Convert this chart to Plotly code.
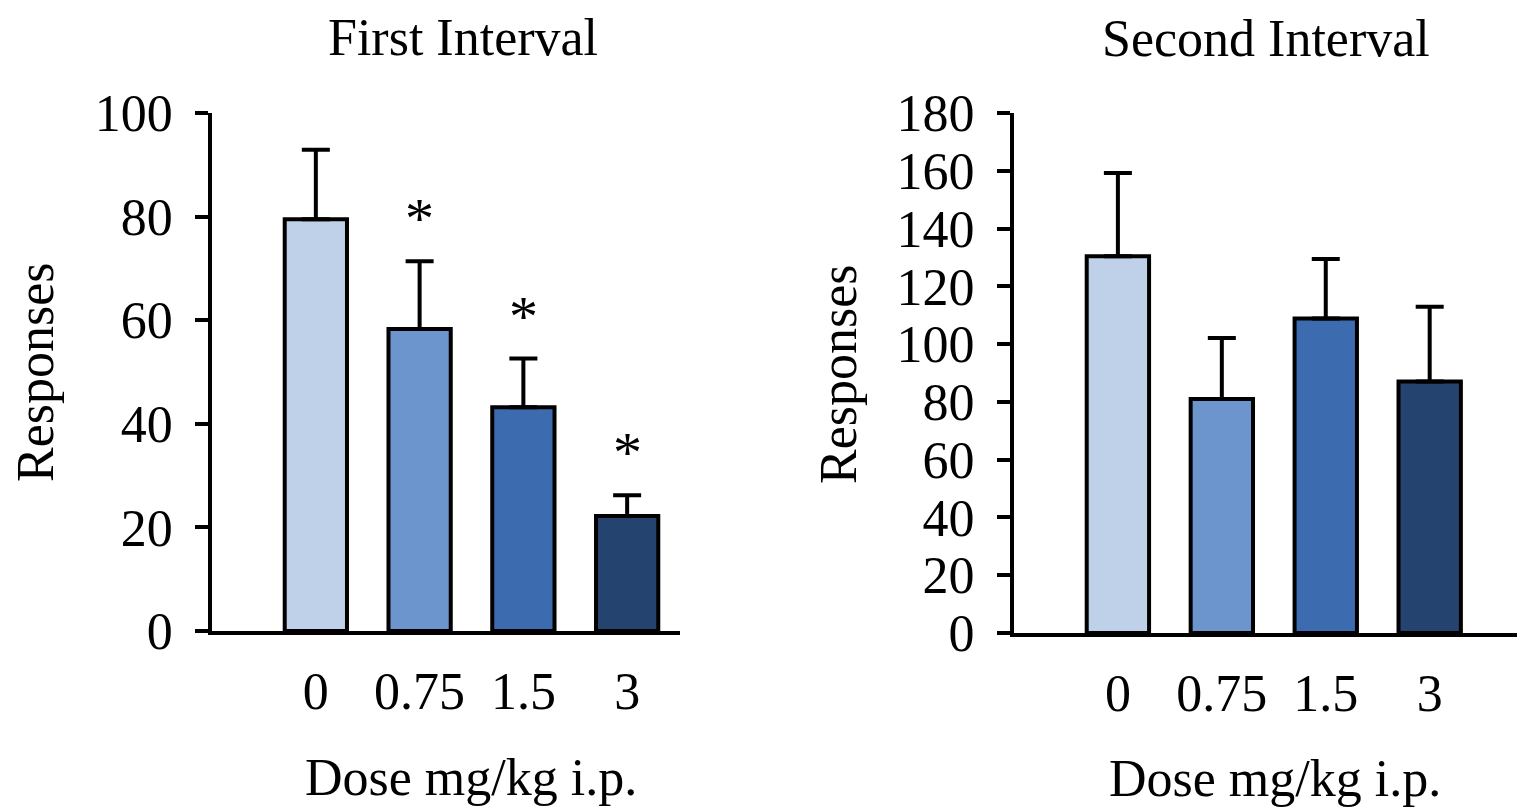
import plotly.graph_objects as go

# Dose groups (mg/kg i.p.)
doses = ["0", "0.75", "1.5", "3"]
bar_colors = ["#BFD0E9", "#6D95CD", "#3D6BB0", "#25436F"]

# First interval: mean responses and SEM
first_mean = [79.5, 58.3, 43.2, 22.2]
first_sem = [13.4, 13.1, 9.4, 4.0]
first_sig = [False, True, True, True]

# Second interval: mean responses and SEM
second_mean = [130.4, 81.0, 108.9, 87.1]
second_sem = [28.8, 21.1, 20.6, 25.8]

FONT = "Liberation Serif, Times New Roman, serif"
FS = 52
LW = 4

fig = go.Figure()


def add_panel(means, sems, xa, ya):
    fig.add_trace(go.Bar(
        x=doses, y=means, xaxis=xa, yaxis=ya,
        width=0.6,
        marker=dict(color=bar_colors, line=dict(color="black", width=LW)),
        error_y=dict(type="data", symmetric=False, array=sems,
                     arrayminus=[0] * len(sems),
                     color="black", thickness=LW, width=14),
        showlegend=False,
    ))


add_panel(first_mean, first_sem, "x", "y")
add_panel(second_mean, second_sem, "x2", "y2")

axis_common = dict(
    showline=True, linecolor="black", linewidth=LW,
    showgrid=False, zeroline=False, automargin=False,
    tickfont=dict(family=FONT, size=FS, color="black"),
)
yaxis_common = dict(ticks="outside", ticklen=13, tickwidth=LW, tickcolor="black",
                    tick0=0, dtick=20, ticklabelstandoff=12, **axis_common)

fig.update_layout(
    width=1517, height=808,
    margin=dict(l=0, r=0, t=0, b=0, autoexpand=False),
    paper_bgcolor="white", plot_bgcolor="white",
    xaxis=dict(domain=[0.1398, 0.4483], type="category", range=[-1, 3.51],
               ticks="", ticklabelstandoff=12, anchor="y", **axis_common),
    yaxis=dict(domain=[0.2191, 0.8601], range=[0, 100], anchor="x", **yaxis_common),
    xaxis2=dict(domain=[0.6684, 1.0], type="category", range=[-1, 3.84],
                ticks="", ticklabelstandoff=12, anchor="y2", **axis_common),
    yaxis2=dict(domain=[0.2166, 0.8601], range=[0, 180], anchor="x2", **yaxis_common),
)

text_font = dict(family=FONT, size=FS, color="black")
annotations = [
    dict(text="First Interval", x=463 / 1517, y=1 - 37 / 808, xref="paper", yref="paper",
         xanchor="center", yanchor="middle", showarrow=False, font=text_font),
    dict(text="Second Interval", x=1266 / 1517, y=1 - 38 / 808, xref="paper", yref="paper",
         xanchor="center", yanchor="middle", showarrow=False, font=text_font),
    dict(text="Dose mg/kg i.p.", x=471 / 1517, y=1 - 777 / 808, xref="paper", yref="paper",
         xanchor="center", yanchor="middle", showarrow=False, font=text_font),
    dict(text="Dose mg/kg i.p.", x=1275 / 1517, y=1 - 778 / 808, xref="paper", yref="paper",
         xanchor="center", yanchor="middle", showarrow=False, font=text_font),
    dict(text="Responses", x=35 / 1517, y=1 - 372 / 808, xref="paper", yref="paper",
         xanchor="center", yanchor="middle", textangle=-90, showarrow=False, font=text_font),
    dict(text="Responses", x=838 / 1517, y=1 - 374 / 808, xref="paper", yref="paper",
         xanchor="center", yanchor="middle", textangle=-90, showarrow=False, font=text_font),
]

# Significance markers above the error bars (positioned by category index)
for i, (m, s, sig) in enumerate(zip(first_mean, first_sem, first_sig)):
    if sig:
        annotations.append(dict(text="*", x=i, y=m + s, xref="x", yref="y",
                                xanchor="center", yanchor="bottom", yshift=8,
                                showarrow=False,
                                font=dict(family=FONT, size=58, color="black")))

fig.update_layout(annotations=annotations)

fig.write_html("out.html")
